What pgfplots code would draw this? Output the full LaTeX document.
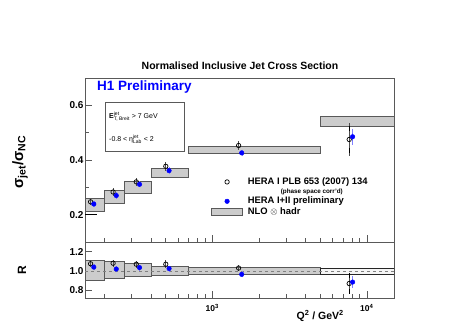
\documentclass[border=0pt]{standalone}
\usepackage{fontspec}
\setmainfont{Liberation Sans}
\usepackage{pgfplots}
\pgfplotsset{compat=1.18}

\definecolor{nlofill}{gray}{0.8}
\definecolor{nloline}{gray}{0.35}
\definecolor{axframe}{gray}{0.35}

\newcommand{\legfont}{\fontsize{9.4}{11}\selectfont\bfseries}

\pgfplotsset{
  nlo/.style={fill=nlofill, draw=nloline, line width=0.6pt},
  hera1/.style={only marks, mark=o, mark size=2.2pt, mark options={line width=0.7pt}, black,
    error bars/y dir=both, error bars/y explicit, error bars/error mark=none,
    error bars/error bar style={line width=0.6pt, gray!60!black}},
  hera2/.style={only marks, mark=*, mark size=2.3pt, blue,
    error bars/y dir=both, error bars/y explicit, error bars/error mark=-,
    error bars/error bar style={line width=0.8pt, blue!60},
    error bars/error mark options={mark size=2pt, blue!50}},
  inner/.style={draw=none, mark=none,
    error bars/y dir=both, error bars/y explicit, error bars/error mark=-,
    error bars/error bar style={draw=gray!60!black, line width=0.6pt},
    error bars/error mark options={mark size=2.5pt}},
}

\begin{document}
\begin{tikzpicture}
\path[use as bounding box] (0,0) rectangle (455pt,327pt);

% upper panel: normalised cross section
\begin{semilogxaxis}[at={(85pt,85pt)}, anchor=south west,
  scale only axis, width=309pt, height=164pt,
  xmin=150, xmax=15000, ymin=0.1, ymax=0.7,
  axis line style={axframe, line width=0.7pt},
  tick align=inside, tick pos=left,
  major tick length=7pt, minor tick length=4pt,
  tick style={axframe, line width=0.6pt},
  tick label style={font=\fontsize{10}{12}\selectfont\bfseries},
  yticklabel style={xshift=2pt},
  xtick={1000,10000}, xticklabels={},
  minor xtick={200,300,400,500,600,700,800,900,2000,3000,4000,5000,6000,7000,8000,9000},
  ytick={0.2,0.4,0.6}, yticklabels={0.2,0.4,0.6}, minor ytick={0.3,0.5},
  extra y ticks={0.2}, extra y tick labels={},
  extra y tick style={major tick length=12pt, tick style={black, line width=0.8pt}},
  legend style={at={(0.408,0.405)}, anchor=north west, draw=none, fill=none,
    inner sep=0pt, row sep=-1.5pt, column sep=3pt, legend cell align=left,
    font=\legfont},
]
\addlegendimage{legend image code/.code={\draw[black, line width=0.7pt] (15.5pt,0pt) circle (2.2pt);}}
\addlegendimage{empty legend}
\addlegendimage{legend image code/.code={\fill[blue] (15.5pt,0pt) circle (2.3pt);}}
\addlegendimage{legend image code/.code={\draw[fill=nlofill, draw=nloline, line width=0.6pt] (0pt,-3.5pt) rectangle (31pt,3.5pt);}}
\legend{{\legfont HERA I PLB 653 (2007) 134},
  \hspace*{33pt}{\fontsize{6.3}{7}\selectfont\bfseries (phase space corr'd)},
  {\legfont HERA I+II preliminary},
  {\legfont NLO $\otimes$ hadr}}

\addplot[nlo] coordinates {(150,0.211) (200,0.211) (200,0.259) (150,0.259)} -- cycle;
\addplot[nlo] coordinates {(200,0.243) (270,0.243) (270,0.289) (200,0.289)} -- cycle;
\addplot[nlo] coordinates {(270,0.280) (400,0.280) (400,0.322) (270,0.322)} -- cycle;
\addplot[nlo] coordinates {(400,0.335) (700,0.335) (700,0.369) (400,0.369)} -- cycle;
\addplot[nlo] coordinates {(700,0.423) (5000,0.423) (5000,0.451) (700,0.451)} -- cycle;
\addplot[nlo] coordinates {(5000,0.522) (15000,0.522) (15000,0.559) (5000,0.559)} -- cycle;

\addplot[hera1] coordinates {
  (163,0.247) +- (0,0.012)
  (228,0.283) +- (0,0.013)
  (322,0.320) +- (0,0.014)
  (500,0.377) +- (0,0.016)
  (1480,0.453) +- (0,0.016)
  (7690,0.475) +- (0,0.062)
};
\addplot[inner] coordinates {(7690,0.475) +- (0,0.040)};
\addplot[hera2] coordinates {
  (171,0.239) +- (0,0.004)
  (239,0.270) +- (0,0.004)
  (338,0.311) +- (0,0.004)
  (525,0.361) +- (0,0.005)
  (1550,0.426) +- (0,0.005)
  (8090,0.485) +- (0,0.022)
};
\end{semilogxaxis}

% lower panel: ratio to NLO
\begin{semilogxaxis}[at={(85pt,29pt)}, anchor=south west,
  scale only axis, width=309pt, height=56pt,
  xmin=150, xmax=15000, ymin=0.72, ymax=1.3,
  axis line style={axframe, line width=0.7pt},
  tick align=inside, tick pos=left,
  major tick length=7pt, minor tick length=4pt,
  tick style={axframe, line width=0.6pt},
  tick label style={font=\fontsize{10}{12}\selectfont\bfseries},
  yticklabel style={xshift=2pt},
  xtick={1000,10000}, xticklabels={10\textsuperscript{3},10\textsuperscript{4}},
  xticklabel style={font=\fontsize{8.5}{10}\selectfont\bfseries, yshift=-3pt},
  minor xtick={200,300,400,500,600,700,800,900,2000,3000,4000,5000,6000,7000,8000,9000},
  ytick={0.8,1.0,1.2}, yticklabels={0.8,1.0,1.2},
]
\addplot[nlo] coordinates {(150,0.905) (200,0.905) (200,1.115) (150,1.115)} -- cycle;
\addplot[nlo] coordinates {(200,0.925) (270,0.925) (270,1.095) (200,1.095)} -- cycle;
\addplot[nlo] coordinates {(270,0.940) (400,0.940) (400,1.075) (270,1.075)} -- cycle;
\addplot[nlo] coordinates {(400,0.950) (700,0.950) (700,1.050) (400,1.050)} -- cycle;
\addplot[nlo] coordinates {(700,0.965) (5000,0.965) (5000,1.035) (700,1.035)} -- cycle;
\addplot[fill=gray!8, draw=gray!30!black, line width=0.6pt] coordinates {(5000,0.970) (15000,0.970) (15000,1.030) (5000,1.030)} -- cycle;
\addplot[gray, dashed, line width=0.4pt] coordinates {(150,1) (15000,1)};

\addplot[hera1] coordinates {
  (163,1.075) +- (0,0.035)
  (228,1.080) +- (0,0.035)
  (322,1.070) +- (0,0.035)
  (500,1.070) +- (0,0.040)
  (1480,1.030) +- (0,0.030)
  (7690,0.870) +- (0,0.110)
};
\addplot[inner] coordinates {(7690,0.870) +- (0,0.080)};
\addplot[hera2] coordinates {
  (171,1.040) +- (0,0.010)
  (239,1.020) +- (0,0.010)
  (338,1.035) +- (0,0.010)
  (525,1.025) +- (0,0.010)
  (1550,0.965) +- (0,0.010)
  (8090,0.885) +- (0,0.040)
};
\end{semilogxaxis}

% titles and labels
\node[anchor=base, font=\fontsize{10.5}{12}\selectfont\bfseries] at (240pt,257pt)
  {Normalised Inclusive Jet Cross Section};
\node[anchor=base west, inner sep=0pt, text=blue, font=\fontsize{13.5}{15}\selectfont\bfseries]
  at (97pt,236pt) {H1 Preliminary};
\node[draw=axframe, line width=0.6pt, minimum width=79pt, minimum height=49pt] at (144.5pt,200.5pt) {};
\node[anchor=base west, inner sep=0pt, font=\fontsize{7}{8}\selectfont] at (109pt,208pt)
  {\textbf{E}\rlap{\textsuperscript{jet}}\textsubscript{T, Breit} > 7 GeV};
\node[anchor=base west, inner sep=0pt, font=\fontsize{7}{8}\selectfont] at (109pt,185pt)
  {-0.8 < η\rlap{\textsuperscript{jet}}\textsubscript{Lab} < 2};
\node[rotate=90, font=\fontsize{15}{17}\selectfont\bfseries] at (20pt,165pt)
  {σ\textsubscript{jet}/σ\textsubscript{NC}};
\node[rotate=90, font=\fontsize{12}{14}\selectfont\bfseries] at (22pt,57pt) {R};
\node[anchor=base east, inner sep=0pt, font=\fontsize{10.5}{12}\selectfont\bfseries] at (344pt,8pt)
  {Q\textsuperscript{2} / GeV\textsuperscript{2}};
\end{tikzpicture}
\end{document}
